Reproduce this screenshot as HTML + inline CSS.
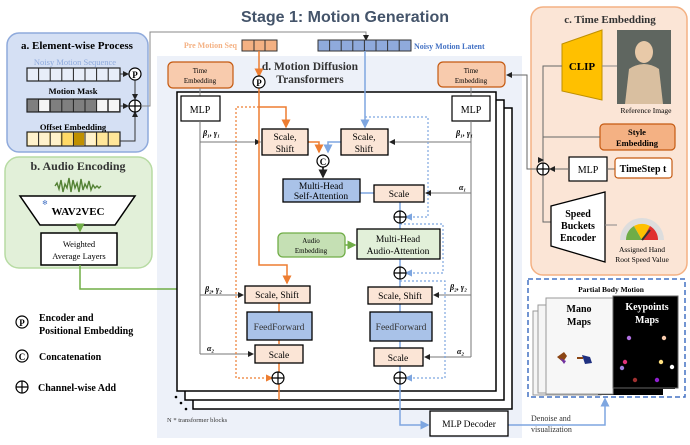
<!DOCTYPE html>
<html><head><meta charset="utf-8"><style>
body{margin:0;background:#fff}
svg{display:block}
text{font-family:"Liberation Serif",serif;fill:#000}
.b{font-weight:bold}
</style></head><body>
<svg width="690" height="445" viewBox="0 0 690 445" xmlns="http://www.w3.org/2000/svg">
<defs>
<marker id="ak" markerWidth="6" markerHeight="6" refX="5" refY="3" orient="auto"><path d="M0,0L6,3L0,6z" fill="#222"/></marker>
<marker id="ag" markerWidth="6" markerHeight="6" refX="5" refY="3" orient="auto"><path d="M0,0L6,3L0,6z" fill="#555"/></marker>
<marker id="ao" markerWidth="6" markerHeight="6" refX="5" refY="3" orient="auto"><path d="M0,0L6,3L0,6z" fill="#ed7d31"/></marker>
<marker id="ab" markerWidth="6" markerHeight="6" refX="5" refY="3" orient="auto"><path d="M0,0L6,3L0,6z" fill="#7ea6e0"/></marker>
<marker id="agr" markerWidth="6" markerHeight="6" refX="5" refY="3" orient="auto"><path d="M0,0L6,3L0,6z" fill="#70ad47"/></marker>
</defs>
<text x="345" y="22" text-anchor="middle" style="font-family:'Liberation Sans',sans-serif;font-size:16px;font-weight:bold;fill:#44546a">Stage 1: Motion Generation</text>

<!-- panel d bg -->
<rect x="157" y="56" width="365" height="158" fill="#edf1f9"/>
<rect x="157" y="56" width="365" height="382" fill="#edf1f9"/>
<!-- panel a -->
<rect x="7" y="33" width="141" height="119" rx="12" fill="#d5e0f4" stroke="#8faadc" stroke-width="1.5"/>
<text x="77" y="49" text-anchor="middle" class="b" font-size="11">a. Element-wise Process</text>
<text x="75" y="65" text-anchor="middle" font-size="8.5" style="fill:#8faadc">Noisy Motion Sequence</text>
<g stroke="#222" stroke-width="1.2">
<rect x="27" y="68" width="93" height="13" fill="#e8eef9"/>
<rect x="27" y="99" width="93" height="13" fill="#7f7f7f"/>
<rect x="27" y="132" width="93" height="14" fill="#ffe699"/>
</g>
<g fill="#f5f5f5"><rect x="39" y="100" width="10" height="11"/><rect x="97" y="100" width="10" height="11"/><rect x="108" y="100" width="11" height="11"/></g>
<g fill="#fff2cc"><rect x="28" y="133" width="10" height="12"/><rect x="39" y="133" width="10" height="12"/><rect x="50" y="133" width="10" height="12"/><rect x="85" y="133" width="10" height="12"/></g>
<rect x="73" y="133" width="11" height="12" fill="#bf9000"/><rect x="61" y="133" width="11" height="12" fill="#ffd966"/>
<g stroke="#222" stroke-width="1">
<path d="M38.6 68v13M50.2 68v13M61.8 68v13M73.4 68v13M85 68v13M96.6 68v13M108.2 68v13"/>
<path d="M38.6 99v13M50.2 99v13M61.8 99v13M73.4 99v13M85 99v13M96.6 99v13M108.2 99v13"/>
<path d="M38.6 132v14M50.2 132v14M61.8 132v14M73.4 132v14M85 132v14M96.6 132v14M108.2 132v14"/>
</g>
<text x="73" y="94" text-anchor="middle" class="b" font-size="8.5">Motion Mask</text>
<text x="73" y="130" text-anchor="middle" class="b" font-size="8.5">Offset Embedding</text>
<g stroke="#333" fill="none" stroke-width="1">
<path d="M120 74h8" marker-end="url(#ak)"/><path d="M120 106h8" marker-end="url(#ak)"/>
<path d="M135 80v19" marker-end="url(#ak)"/><path d="M120 141h15v-29" marker-end="url(#ak)"/>
</g>
<circle cx="135" cy="74" r="6" fill="#fff" stroke="#000" stroke-width="1.2"/><text x="135" y="78" text-anchor="middle" class="b" font-size="9">P</text>
<circle cx="135" cy="106" r="6" fill="#fff" stroke="#000" stroke-width="1.2"/><path d="M129 106h12M135 100v12" stroke="#000" stroke-width="1.2"/>
<path d="M141 106h9V32h216v8" fill="none" stroke="#888" stroke-width="1" marker-end="url(#ak)"/>

<!-- panel b -->
<rect x="5" y="157" width="147" height="111" rx="14" fill="#e2f0d9" stroke="#b7dba3" stroke-width="1.5"/>
<text x="78" y="170" text-anchor="middle" class="b" font-size="12" style="fill:#333">b. Audio Encoding</text>
<path d="M55 186 l2-3 2 6 2-9 2 12 2-8 2 4 2-10 2 14 2-12 2 8 2-5 2 9 2-13 2 11 2-6 2 4 2-7 2 9 2-5 2 3 2-2 2 2 2-2" fill="none" stroke="#548235" stroke-width="1.4"/>
<path d="M20 196h115l-20 29H40z" fill="#fff" stroke="#000" stroke-width="1.5"/>
<text x="78" y="215" text-anchor="middle" class="b" font-size="11">WAV2VEC</text>
<text x="42" y="205" font-size="7" style="fill:#4472c4">❄</text>
<path d="M80 225v6" stroke="#70ad47" stroke-width="1.5" marker-end="url(#agr)"/>
<rect x="41" y="233" width="76" height="32" fill="#fff" stroke="#000" stroke-width="1.5"/>
<text x="79" y="247" text-anchor="middle" font-size="8.5">Weighted</text>
<text x="79" y="259" text-anchor="middle" font-size="8.5">Average Layers</text>
<path d="M80 265v24h107v-43h89" fill="none" stroke="#70ad47" stroke-width="1.5" marker-end="url(#agr)"/>

<!-- legend -->
<circle cx="22" cy="322" r="6" fill="#fff" stroke="#000" stroke-width="1.2"/><text x="22" y="326" text-anchor="middle" class="b" font-size="9">P</text>
<text x="39" y="321" class="b" font-size="10">Encoder and</text><text x="39" y="334" class="b" font-size="10">Positional Embedding</text>
<circle cx="22" cy="356" r="6" fill="#fff" stroke="#000" stroke-width="1.2"/><text x="22" y="360" text-anchor="middle" class="b" font-size="9">C</text>
<text x="39" y="360" class="b" font-size="10">Concatenation</text>
<circle cx="22" cy="387" r="6" fill="#fff" stroke="#000" stroke-width="1.2"/><path d="M16 387h12M22 381v12" stroke="#000" stroke-width="1.2"/>
<text x="38" y="391" class="b" font-size="10">Channel-wise Add</text>

<!-- top inputs -->
<text x="237" y="48" text-anchor="end" font-size="8" class="b" style="fill:#f4b183">Pre Motion Seq</text>
<rect x="242" y="40" width="35" height="11" fill="#f4b183" stroke="#333"/><path d="M254 40v11M265 40v11" stroke="#333"/>
<rect x="318" y="40" width="93" height="11" fill="#8faadc" stroke="#333"/>
<path d="M329.6 40v11M341.2 40v11M352.8 40v11M364.4 40v11M376 40v11M387.6 40v11M399.2 40v11" stroke="#333"/>
<text x="414" y="49" font-size="8" class="b" style="fill:#4472c4">Noisy Motion Latent</text>
<text x="310" y="70" text-anchor="middle" class="b" font-size="11.5" style="fill:#333">d. Motion Diffusion</text>
<text x="310" y="83" text-anchor="middle" class="b" font-size="11.5" style="fill:#333">Transformers</text>

<!-- stacked blocks -->
<rect x="193" y="108" width="319" height="301" fill="#fff" stroke="#000" stroke-width="1.5"/>
<rect x="185" y="100" width="319" height="300" fill="#fff" stroke="#000" stroke-width="1.5"/>
<rect x="177" y="92" width="319" height="299" fill="#fff" stroke="#000" stroke-width="1.5"/>
<circle cx="176" cy="397" r="1.3"/><circle cx="181" cy="403" r="1.3"/><circle cx="186" cy="409" r="1.3"/>
<text x="167" y="422" font-size="6.5" style="fill:#333">N * transformer blocks</text>

<!-- time embeddings -->
<rect x="168" y="62" width="65" height="26" rx="5" fill="#f8cbad" stroke="#c55a11" stroke-width="1.2"/>
<text x="200" y="73" text-anchor="middle" font-size="7">Time</text><text x="200" y="83" text-anchor="middle" font-size="7">Embedding</text>
<rect x="438" y="62" width="67" height="25" rx="5" fill="#f8cbad" stroke="#c55a11" stroke-width="1.2"/>
<text x="471" y="73" text-anchor="middle" font-size="7">Time</text><text x="471" y="83" text-anchor="middle" font-size="7">Embedding</text>
<path d="M200 88v8M471 87v9" stroke="#888"/>
<rect x="181" y="96" width="39" height="25" fill="#fff" stroke="#000" stroke-width="1.2"/><text x="200" y="113" text-anchor="middle" font-size="10">MLP</text>
<rect x="452" y="96" width="38" height="25" fill="#fff" stroke="#000" stroke-width="1.2"/><text x="471" y="113" text-anchor="middle" font-size="10">MLP</text>

<!-- gray control lines -->
<g fill="none" stroke="#777" stroke-width="1">
<path d="M200 121v233"/>
<path d="M200 142h60" marker-end="url(#ak)"/><path d="M200 295h43" marker-end="url(#ak)"/><path d="M200 354h53" marker-end="url(#ak)"/>
<path d="M471 121v236"/>
<path d="M471 142h-81" marker-end="url(#ak)"/><path d="M471 193h-45" marker-end="url(#ak)"/><path d="M471 295h-37" marker-end="url(#ak)"/><path d="M471 357h-46" marker-end="url(#ak)"/>
</g>
<g font-size="8" class="b" font-style="italic">
<text x="203" y="136">β₁, γ₁</text><text x="456" y="136">β₁, γ₁</text>
<text x="205" y="292">β₂, γ₂</text><text x="450" y="290">β₂, γ₂</text>
<text x="207" y="351">α₂</text><text x="457" y="354">α₂</text><text x="459" y="190">α₁</text>
</g>

<!-- orange paths -->
<g fill="none" stroke="#ed7d31" stroke-width="1.5">
<path d="M259 51v25" marker-end="url(#ao)"/>
<path d="M259 88v177h28v18" marker-end="url(#ao)"/>
<path d="M259 107h27v20" marker-end="url(#ao)"/>
<path d="M308 142h11v10" marker-end="url(#ao)"/>
<path d="M279 303v9M279 340v4M279 363v9"/>
<path d="M279 384v16" />
</g>
<path d="M259 107h-23v271h36" fill="none" stroke="#ed7d31" stroke-width="1.2" stroke-dasharray="2,2" marker-end="url(#ao)"/>
<circle cx="259" cy="82" r="6" fill="#fff" stroke="#000" stroke-width="1.2"/><text x="259" y="86" text-anchor="middle" class="b" font-size="9">P</text>

<!-- blue paths -->
<g fill="none" stroke="#7ea6e0" stroke-width="1.5">
<path d="M365 51v76" marker-end="url(#ab)"/>
<path d="M341 142h-13v10" marker-end="url(#ab)"/>
<path d="M360 193h14"/>
<path d="M400 202v9M400 223v6M400 259v8M400 279v8M400 304v8M400 341v7M400 366v6"/>
<path d="M400 384v41h28" marker-end="url(#ab)"/>
<path d="M508 425h97v-26" marker-end="url(#ab)"/>
</g>
<g fill="none" stroke="#7ea6e0" stroke-width="1.2" stroke-dasharray="2,2">
<path d="M365 117h63v100h-22" marker-end="url(#ab)"/>
<path d="M400 224h43v49h-37" marker-end="url(#ab)"/>
<path d="M400 281h45v97h-39" marker-end="url(#ab)"/>
</g>

<!-- boxes -->
<g stroke="#000" stroke-width="1.3">
<rect x="262" y="129" width="46" height="26" fill="#fbe5d6"/>
<rect x="341" y="129" width="47" height="26" fill="#fbe5d6"/>
<rect x="283" y="179" width="77" height="23" fill="#a9c2e8"/>
<rect x="374" y="185" width="50" height="17" fill="#fbe5d6"/>
<rect x="357" y="229" width="83" height="30" fill="#e2f0d9"/>
<rect x="245" y="286" width="65" height="17" fill="#fbe5d6"/>
<rect x="247" y="312" width="65" height="28" fill="#a9c2e8"/>
<rect x="255" y="345" width="48" height="18" fill="#fbe5d6"/>
<rect x="368" y="287" width="64" height="17" fill="#fbe5d6"/>
<rect x="370" y="312" width="62" height="29" fill="#a9c2e8"/>
<rect x="374" y="348" width="49" height="18" fill="#fbe5d6"/>
<rect x="430" y="411" width="78" height="25" fill="#fff"/>
</g>
<rect x="278" y="233" width="67" height="24" rx="5" fill="#c5e0b4" stroke="#70ad47" stroke-width="1.3"/>
<text x="311" y="243" text-anchor="middle" font-size="7">Audio</text><text x="311" y="253" text-anchor="middle" font-size="7">Embedding</text>
<path d="M345 245h10" stroke="#70ad47" stroke-width="1.5" marker-end="url(#agr)"/>
<g font-size="9.5" text-anchor="middle">
<text x="285" y="140">Scale,</text><text x="285" y="152">Shift</text>
<text x="364" y="140">Scale,</text><text x="364" y="152">Shift</text>
<text x="321" y="189">Multi-Head</text><text x="321" y="199">Self-Attention</text>
<text x="399" y="197">Scale</text>
<text x="398" y="242">Multi-Head</text><text x="398" y="254">Audio-Attention</text>
<text x="277" y="298">Scale, Shift</text><text x="279" y="330" style="fill:#333">FeedForward</text><text x="279" y="358">Scale</text>
<text x="400" y="299">Scale, Shift</text><text x="401" y="330" style="fill:#333">FeedForward</text><text x="398" y="361">Scale</text>
<text x="469" y="427">MLP Decoder</text>
</g>
<path d="M323 167v10" stroke="#000" stroke-width="1.5" marker-end="url(#ak)"/>
<circle cx="323" cy="161" r="6" fill="#fff" stroke="#000" stroke-width="1.2"/><text x="323" y="165" text-anchor="middle" class="b" font-size="9">C</text>
<g fill="#fff" stroke="#000" stroke-width="1.2">
<circle cx="400" cy="217" r="6"/><circle cx="400" cy="273" r="6"/><circle cx="400" cy="378" r="6"/><circle cx="278" cy="378" r="6"/>
</g>
<path d="M394 217h12M400 211v12M394 273h12M400 267v12M394 378h12M400 372v12M272 378h12M278 372v12" stroke="#000" stroke-width="1.2"/>
<text x="531" y="421" font-size="8" style="fill:#333">Denoise and</text><text x="531" y="432" font-size="8" style="fill:#333">visualization</text>

<!-- panel c -->
<rect x="531" y="7" width="156" height="268" rx="12" fill="#fbe5d6" stroke="#f4b183" stroke-width="1.5"/>
<text x="610" y="23" text-anchor="middle" class="b" font-size="11" style="fill:#333">c. Time Embedding</text>
<path d="M562 44L602 30V100L562 91z" fill="#ffc000" stroke="#bf9000"/>
<text x="582" y="70" text-anchor="middle" class="b" font-size="11">CLIP</text>
<rect x="617" y="30" width="54" height="74" fill="#5f6660"/>
<ellipse cx="644" cy="52" rx="9" ry="11" fill="#e8c9a8"/>
<path d="M625 104l4-35q15-10 30 0l4 35z" fill="#d9bfa0"/>
<text x="646" y="113" text-anchor="middle" font-size="7.5">Reference Image</text>
<path d="M602 66h15" stroke="#888"/>
<rect x="600" y="124" width="75" height="26" rx="4" fill="#f4b183" stroke="#c55a11" stroke-width="1.2"/>
<text x="637" y="135" text-anchor="middle" class="b" font-size="8.5">Style</text><text x="637" y="146" text-anchor="middle" class="b" font-size="8.5">Embedding</text>
<path d="M543 137h57M562 66h-19v96M543 176v46h8" stroke="#666" fill="none"/>
<path d="M543 160v0" marker-end="url(#ak)"/>
<path d="M537 169h-10V75h-20" fill="none" stroke="#666" marker-end="url(#ak)"/>
<circle cx="543" cy="169" r="6" fill="#fff" stroke="#000" stroke-width="1.2"/><path d="M537 169h12M543 163v12" stroke="#000" stroke-width="1.2"/>
<rect x="569" y="157" width="38" height="24" fill="#fff" stroke="#000" stroke-width="1.2"/><text x="588" y="173" text-anchor="middle" font-size="10">MLP</text>
<path d="M569 169h-19" stroke="#666" marker-end="url(#ak)"/><path d="M615 169h-8" stroke="#666"/>
<rect x="615" y="158" width="57" height="20" rx="3" fill="#fff" stroke="#c55a11" stroke-width="1.2"/>
<text x="643" y="172" text-anchor="middle" class="b" font-size="10">TimeStep t</text>
<path d="M551 206L605 192V262L551 246z" fill="#fff" stroke="#000" stroke-width="1.3"/>
<text x="578" y="217" text-anchor="middle" class="b" font-size="10">Speed</text>
<text x="578" y="229" text-anchor="middle" class="b" font-size="10">Buckets</text>
<text x="578" y="241" text-anchor="middle" class="b" font-size="10">Encoder</text>
<path d="M605 225h12" stroke="#888"/>
<path d="M620 240a22 22 0 0 1 44 0z" fill="#ddd"/>
<path d="M626 240a16 16 0 0 1 8-14l8 14z" fill="#70ad47"/><path d="M634 226a16 16 0 0 1 16 0l-8 14z" fill="#ffc000"/><path d="M650 226a16 16 0 0 1 8 14h-16z" fill="#e03030"/>
<path d="M642 240l8-10" stroke="#333" stroke-width="2"/>
<text x="642" y="252" text-anchor="middle" font-size="7.5">Assigned Hand</text>
<text x="642" y="262" text-anchor="middle" font-size="7.5">Root Speed Value</text>

<!-- partial body -->
<rect x="528" y="279" width="157" height="118" fill="#fff" stroke="#4472c4" stroke-width="1.5" stroke-dasharray="5,3"/>
<text x="611" y="292" text-anchor="middle" class="b" font-size="7.5">Partial Body Motion</text>
<rect x="533" y="311" width="68" height="84" fill="#f5f5f5" stroke="#999"/>
<rect x="538" y="305" width="68" height="88" fill="#f5f5f5" stroke="#999"/>
<rect x="598" y="388" width="65" height="7" fill="#000"/>
<rect x="605" y="380" width="70" height="9" fill="#000"/>
<rect x="546" y="298" width="67" height="96" fill="#f7f7f7" stroke="#999"/>
<rect x="613" y="296" width="65" height="92" fill="#000" stroke="#666"/>
<text x="579" y="312" text-anchor="middle" class="b" font-size="10">Mano</text><text x="579" y="325" text-anchor="middle" class="b" font-size="10">Maps</text>
<text x="647" y="310" text-anchor="middle" class="b" font-size="10" style="fill:#fff">Keypoints</text><text x="647" y="323" text-anchor="middle" class="b" font-size="10" style="fill:#fff">Maps</text>
<path d="M557 357l7-5 3 4-4 6z" fill="#8b4513"/><path d="M560 358l6 3-2 3z" fill="#7030a0"/>
<path d="M582 355l8 2 2 6-7 1z" fill="#1f3080"/><path d="M583 358h-6" stroke="#8b4513" stroke-width="2"/>
<g>
<circle cx="629" cy="338" r="2.2" fill="#b070e0"/><circle cx="664" cy="338" r="2.2" fill="#f8cbad"/>
<circle cx="625" cy="362" r="2.2" fill="#e0307a"/><circle cx="661" cy="362" r="2.2" fill="#ffe080"/>
<circle cx="622" cy="368" r="2.2" fill="#a080e0"/><circle cx="672" cy="367" r="2.2" fill="#fff"/>
<circle cx="635" cy="380" r="2.2" fill="#a03030"/><circle cx="657" cy="380" r="2.2" fill="#9020d0"/>
</g>
</svg>
</body></html>
